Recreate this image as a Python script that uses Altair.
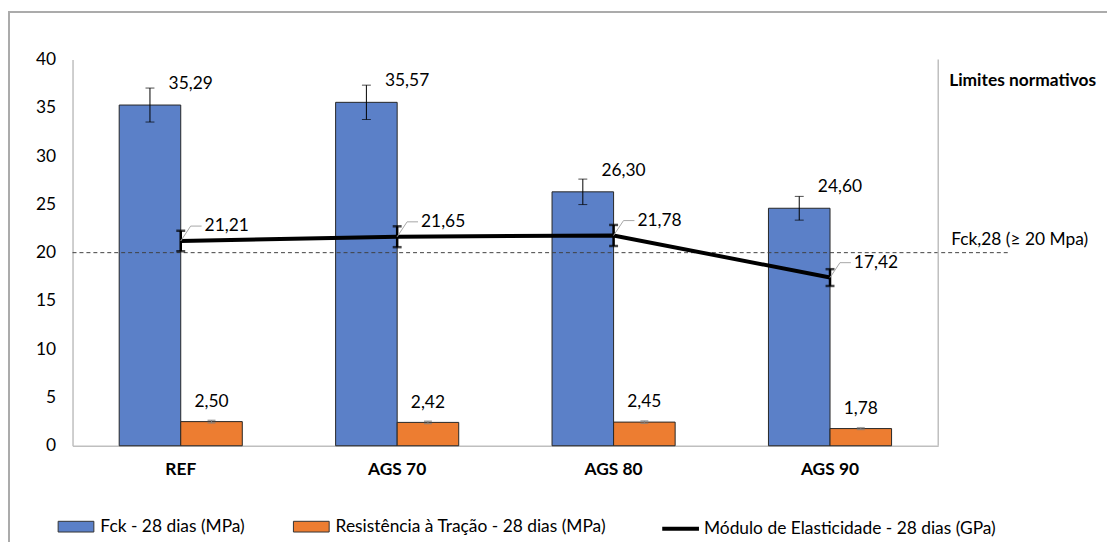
import altair as alt
import pandas as pd

# ---------------- data ----------------
categories = ["REF", "AGS 70", "AGS 80", "AGS 90"]
fck = [35.29, 35.57, 26.30, 24.60]
fck_err = [1.76, 1.78, 1.32, 1.23]
tracao = [2.50, 2.42, 2.45, 1.78]
tracao_err = [0.13, 0.12, 0.12, 0.09]
modulo = [21.21, 21.65, 21.78, 17.42]
modulo_err = [1.06, 1.08, 1.09, 0.87]
limite_fck = [20]

FCK = "Fck - 28 dias (MPa)"
TRAC = "Resistência à Tração - 28 dias (MPa)"
MOD = "Módulo de Elasticidade - 28 dias (GPa)"
LIM_TITLE = "Limites normativos"
LIM_LABEL = "Fck,28 (≥ 20 Mpa)"

df = pd.DataFrame({
    "cat": categories,
    "fck": fck, "fck_err": fck_err,
    "trac": tracao, "trac_err": tracao_err,
    "mod": modulo, "mod_err": modulo_err,
})
df["fck_s"] = FCK
df["trac_s"] = TRAC
df["mod_s"] = MOD

lim_df = pd.DataFrame({"lim": limite_fck, "txt": [LIM_LABEL]})
one_df = pd.DataFrame({"t": [LIM_TITLE]})

# ---------------- style ----------------
W, H = 872, 389
FONT = "Lato"
FS = 17.5
BLUE = "#5B80C8"
ORANGE = "#ED7D31"
GRAY = "#BFBFBF"

x_enc = alt.X(
    "cat:N", sort=categories,
    scale=alt.Scale(type="band", paddingInner=0, paddingOuter=0),
    axis=alt.Axis(title=None, labelAngle=0, labelFontWeight="bold", labelFontSize=FS,
                  labelFont=FONT, labelColor="#000000", ticks=False, domainColor=GRAY,
                  domainWidth=1.5, labelPadding=15),
)


def y_enc(field):
    return alt.Y(
        f"{field}:Q",
        scale=alt.Scale(domain=[0, 40], nice=False, zero=True),
        axis=alt.Axis(title=None, values=list(range(0, 41, 5)), grid=False, ticks=False,
                      domainColor=GRAY, domainWidth=1.5, labelFontSize=FS, labelFont=FONT,
                      labelColor="#000000", labelPadding=17),
    )


fill_scale = alt.Scale(domain=[FCK, TRAC], range=[BLUE, ORANGE])
fill_legend = alt.Legend(
    title=None, orient="none", legendX=-15, legendY=452, direction="horizontal",
    symbolType="M-1,-0.3H1V0.3H-1Z", symbolSize=1296, symbolStrokeColor="#333333",
    symbolStrokeWidth=1, symbolOpacity=1, labelFontSize=FS, labelFont=FONT,
    labelColor="#000000", columnPadding=46, labelOffset=6, labelLimit=500,
)
stroke_scale = alt.Scale(domain=[MOD], range=["#000000"])
stroke_legend = alt.Legend(
    title=None, orient="none", legendX=592, legendY=452, direction="horizontal",
    symbolType="stroke", symbolSize=1369, symbolStrokeWidth=4, labelFontSize=FS,
    labelFont=FONT, labelColor="#000000", labelOffset=3, labelLimit=500,
)

base = alt.Chart(df)

# frame around the chart (decoration)
frame = alt.Chart(one_df).mark_rect(fill=None, stroke="#ABABAB", strokeWidth=2).encode(
    x=alt.value(-64), y=alt.value(-48), x2=alt.value(1200), y2=alt.value(700)
)

bars_fck = base.mark_bar(width=62, xOffset=-31, stroke="#262626", strokeWidth=1).encode(
    x=x_enc, y=y_enc("fck"),
    fill=alt.Fill("fck_s:N", scale=fill_scale, legend=fill_legend),
)
bars_trac = base.mark_bar(width=62, xOffset=31, stroke="#262626", strokeWidth=1).encode(
    x=x_enc, y=y_enc("trac"),
    fill=alt.Fill("trac_s:N", scale=fill_scale, legend=fill_legend),
)

err_base = base.transform_calculate(
    fck_lo="datum.fck - datum.fck_err", fck_hi="datum.fck + datum.fck_err",
    trac_lo="datum.trac - datum.trac_err", trac_hi="datum.trac + datum.trac_err",
    mod_lo="datum.mod - datum.mod_err", mod_hi="datum.mod + datum.mod_err",
)

fck_err_rule = err_base.mark_rule(xOffset=-31, color="#000000", strokeWidth=1).encode(
    x=x_enc, y=y_enc("fck_lo"), y2="fck_hi:Q"
)
fck_cap_hi = err_base.mark_tick(xOffset=-31, color="#000000", thickness=1, size=9).encode(
    x=x_enc, y=y_enc("fck_hi")
)
fck_cap_lo = err_base.mark_tick(xOffset=-31, color="#000000", thickness=1, size=9).encode(
    x=x_enc, y=y_enc("fck_lo")
)
trac_err_rule = err_base.mark_rule(xOffset=31, color="#7F7F7F", strokeWidth=1).encode(
    x=x_enc, y=y_enc("trac_lo"), y2="trac_hi:Q"
)
trac_cap_hi = err_base.mark_tick(xOffset=31, color="#7F7F7F", thickness=1.5, size=8).encode(
    x=x_enc, y=y_enc("trac_hi")
)
trac_cap_lo = err_base.mark_tick(xOffset=31, color="#7F7F7F", thickness=1.5, size=8).encode(
    x=x_enc, y=y_enc("trac_lo")
)

dashed = alt.Chart(lim_df).mark_rule(color="#404040", strokeWidth=1, strokeDash=[4, 3]).encode(
    y=y_enc("lim"), x=alt.value(0), x2=alt.value(942)
)
lim_text = alt.Chart(lim_df).mark_text(
    font=FONT, fontSize=FS, align="left", baseline="middle", dy=-13, color="#000000"
).encode(y=y_enc("lim"), x=alt.value(885), text="txt:N")
lim_title = alt.Chart(one_df).mark_text(
    font=FONT, fontSize=FS, fontWeight="bold", align="left", baseline="middle", color="#000000"
).encode(x=alt.value(883), y=alt.value(22), text="t:N")

line = base.mark_line(strokeWidth=4).encode(
    x=x_enc, y=y_enc("mod"),
    stroke=alt.Stroke("mod_s:N", scale=stroke_scale, legend=stroke_legend),
)
mod_err_rule = err_base.mark_rule(color="#000000", strokeWidth=2.5).encode(
    x=x_enc, y=y_enc("mod_lo"), y2="mod_hi:Q"
)
mod_cap_hi = err_base.mark_tick(color="#000000", thickness=2.5, size=9).encode(
    x=x_enc, y=y_enc("mod_hi")
)
mod_cap_lo = err_base.mark_tick(color="#000000", thickness=2.5, size=9).encode(
    x=x_enc, y=y_enc("mod_lo")
)

leader_diag = base.mark_rule(color="#A6A6A6", strokeWidth=1, x2Offset=10, y2Offset=-15).encode(
    x=x_enc, y=y_enc("mod"), x2="cat:N", y2="mod:Q"
)
leader_h = base.mark_rule(color="#A6A6A6", strokeWidth=1, xOffset=10, x2Offset=21,
                          yOffset=-15, y2Offset=-15).encode(
    x=x_enc, y=y_enc("mod"), x2="cat:N", y2="mod:Q"
)

lbl = base.transform_calculate(
    fck_lbl="replace(format(datum.fck, '.2f'), '.', ',')",
    trac_lbl="replace(format(datum.trac, '.2f'), '.', ',')",
    mod_lbl="replace(format(datum.mod, '.2f'), '.', ',')",
)
fck_text = lbl.mark_text(font=FONT, fontSize=FS, dx=10, dy=-21, baseline="middle",
                         color="#000000").encode(x=x_enc, y=y_enc("fck"), text="fck_lbl:N")
trac_text = lbl.mark_text(font=FONT, fontSize=FS, dx=31, dy=-20, baseline="middle",
                          color="#000000").encode(x=x_enc, y=y_enc("trac"), text="trac_lbl:N")
mod_text = lbl.mark_text(font=FONT, fontSize=FS, dx=24, dy=-15, align="left",
                         baseline="middle", color="#000000").encode(
    x=x_enc, y=y_enc("mod"), text="mod_lbl:N")

right_border = alt.Chart(one_df).mark_rule(color=GRAY, strokeWidth=1.5).encode(
    x=alt.value(W), y=alt.value(0), y2=alt.value(H)
)

chart = alt.layer(
    frame, bars_fck, bars_trac,
    fck_err_rule, fck_cap_hi, fck_cap_lo,
    trac_err_rule, trac_cap_hi, trac_cap_lo,
    dashed, line, mod_err_rule, mod_cap_hi, mod_cap_lo,
    leader_diag, leader_h,
    fck_text, trac_text, mod_text,
    lim_text, lim_title, right_border,
).resolve_scale(x="shared", y="shared").properties(
    width=W, height=H,
    autosize=alt.AutoSizeParams(type="none"),
    padding={"left": 65, "top": 50, "right": 170, "bottom": 95},
    background="#FFFFFF",
).configure_view(stroke=None)

chart.save("out.html", embed_options={"renderer": "svg", "actions": False})
